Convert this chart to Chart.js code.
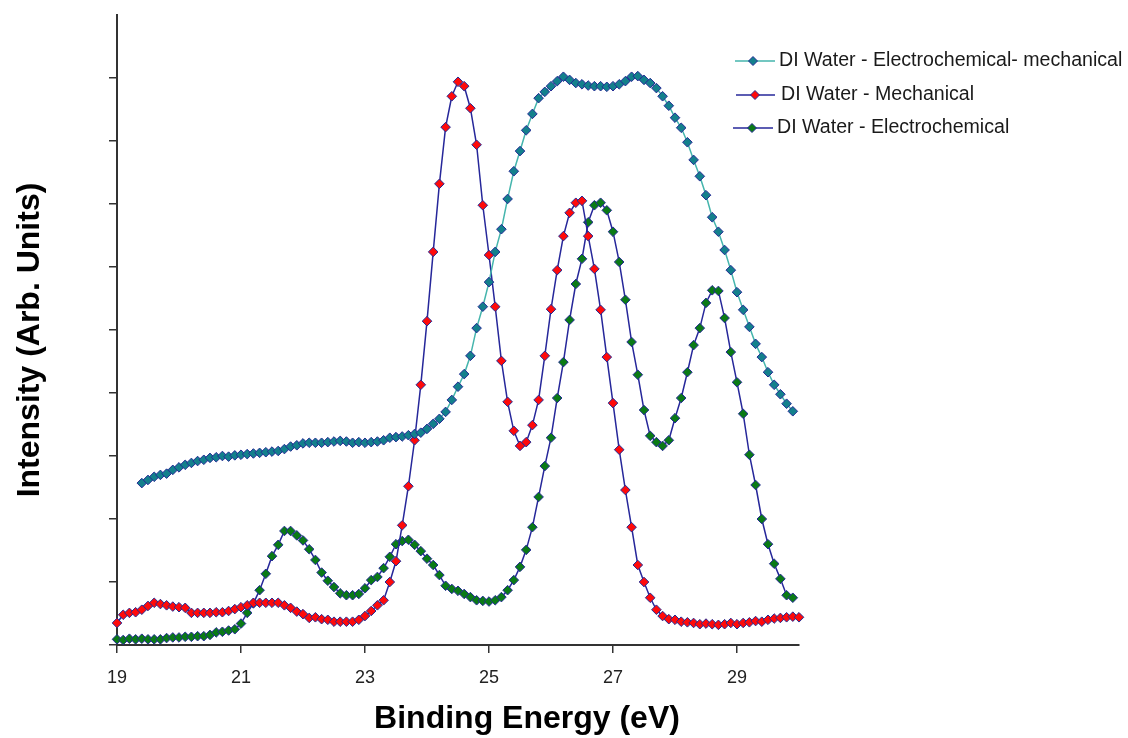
<!DOCTYPE html>
<html>
<head>
<meta charset="utf-8">
<script src="https://cdn.jsdelivr.net/npm/chart.js@4.4.0/dist/chart.umd.min.js"></script>
<style>
  html, body { margin: 0; padding: 0; background: #fff; }
  #wrap { width: 1128px; height: 738px; }
</style>
</head>
<body>
<div id="wrap"><canvas id="grafico" width="1128" height="738"></canvas></div>
<script>
// Binding energy grid (eV)
const energy = [
  19.0, 19.1, 19.2, 19.3, 19.4, 19.5, 19.6, 19.7, 19.8, 19.9,
  20.0, 20.1, 20.2, 20.3, 20.4, 20.5, 20.6, 20.7, 20.8, 20.9,
  21.0, 21.1, 21.2, 21.3, 21.4, 21.5, 21.6, 21.7, 21.8, 21.9,
  22.0, 22.1, 22.2, 22.3, 22.4, 22.5, 22.6, 22.7, 22.8, 22.9,
  23.0, 23.1, 23.2, 23.3, 23.4, 23.5, 23.6, 23.7, 23.8, 23.9,
  24.0, 24.1, 24.2, 24.3, 24.4, 24.5, 24.6, 24.7, 24.8, 24.9,
  25.0, 25.1, 25.2, 25.3, 25.4, 25.5, 25.6, 25.7, 25.8, 25.9,
  26.0, 26.1, 26.2, 26.3, 26.4, 26.5, 26.6, 26.7, 26.8, 26.9,
  27.0, 27.1, 27.2, 27.3, 27.4, 27.5, 27.6, 27.7, 27.8, 27.9,
  28.0, 28.1, 28.2, 28.3, 28.4, 28.5, 28.6, 28.7, 28.8, 28.9,
  29.0, 29.1, 29.2, 29.3, 29.4, 29.5, 29.6, 29.7, 29.8, 29.9,
  30.0
];

const xTicks = [19, 21, 23, 25, 27, 29];
const yTicks = [0, 1, 2, 3, 4, 5, 6, 7, 8, 9];

const seriesNames = [
  "DI Water - Electrochemical- mechanical",
  "DI Water - Mechanical",
  "DI Water - Electrochemical"
];

// DI Water - Electrochemical-mechanical (starts at 19.4 eV)
const ecMech = [
  null, null, null, null, 2.57, 2.62, 2.67, 2.70, 2.72, 2.78,
  2.82, 2.86, 2.89, 2.92, 2.94, 2.97, 2.98, 3.00, 2.99, 3.01,
  3.02, 3.03, 3.04, 3.05, 3.06, 3.07, 3.08, 3.11, 3.15, 3.17,
  3.20, 3.21, 3.21, 3.21, 3.22, 3.23, 3.24, 3.23, 3.21, 3.22,
  3.21, 3.22, 3.23, 3.25, 3.29, 3.30, 3.31, 3.33, 3.35, 3.37,
  3.43, 3.51, 3.59, 3.70, 3.89, 4.10, 4.30, 4.59, 5.03, 5.37,
  5.76, 6.24, 6.60, 7.08, 7.52, 7.84, 8.17, 8.43, 8.68, 8.78,
  8.87, 8.95, 9.02, 8.97, 8.92, 8.90, 8.88, 8.87, 8.87, 8.86,
  8.87, 8.90, 8.95, 9.02, 9.03, 8.97, 8.92, 8.84, 8.71, 8.56,
  8.37, 8.21, 7.98, 7.70, 7.44, 7.14, 6.79, 6.56, 6.27, 5.95,
  5.60, 5.32, 5.05, 4.78, 4.57, 4.33, 4.13, 3.98, 3.83, 3.71,
  null
];

// DI Water - Mechanical
const mech = [
  0.35, 0.48, 0.51, 0.52, 0.56, 0.62, 0.67, 0.65, 0.63, 0.61,
  0.60, 0.59, 0.51, 0.51, 0.51, 0.51, 0.52, 0.52, 0.54, 0.57,
  0.60, 0.63, 0.67, 0.67, 0.67, 0.67, 0.67, 0.63, 0.59, 0.53,
  0.49, 0.43, 0.44, 0.41, 0.40, 0.37, 0.37, 0.37, 0.37, 0.40,
  0.46, 0.54, 0.63, 0.71, 1.00, 1.33, 1.90, 2.52, 3.25, 4.13,
  5.14, 6.24, 7.32, 8.22, 8.71, 8.94, 8.87, 8.52, 7.94, 6.98,
  6.19, 5.37, 4.51, 3.86, 3.40, 3.16, 3.22, 3.49, 3.89, 4.59,
  5.33, 5.95, 6.49, 6.86, 7.02, 7.05, 6.49, 5.97, 5.32, 4.57,
  3.84, 3.10, 2.46, 1.87, 1.27, 1.00, 0.75, 0.56, 0.46, 0.41,
  0.40, 0.37, 0.36, 0.35, 0.33, 0.34, 0.33, 0.32, 0.33, 0.35,
  0.33, 0.35, 0.36, 0.38, 0.37, 0.40, 0.42, 0.43, 0.44, 0.45,
  0.44
];

// DI Water - Electrochemical
const echem = [
  0.09, 0.08, 0.10, 0.09, 0.10, 0.09, 0.09, 0.09, 0.11, 0.12,
  0.12, 0.13, 0.13, 0.14, 0.14, 0.16, 0.20, 0.21, 0.23, 0.25,
  0.34, 0.51, 0.66, 0.87, 1.13, 1.41, 1.59, 1.81, 1.81, 1.74,
  1.66, 1.52, 1.35, 1.15, 1.02, 0.92, 0.82, 0.79, 0.79, 0.81,
  0.90, 1.03, 1.08, 1.22, 1.40, 1.60, 1.65, 1.67, 1.59, 1.49,
  1.37, 1.27, 1.11, 0.94, 0.89, 0.86, 0.81, 0.76, 0.71, 0.70,
  0.69, 0.71, 0.76, 0.87, 1.03, 1.24, 1.51, 1.87, 2.35, 2.84,
  3.29, 3.92, 4.49, 5.16, 5.73, 6.13, 6.71, 6.98, 7.02, 6.90,
  6.56, 6.08, 5.48, 4.81, 4.29, 3.73, 3.32, 3.22, 3.16, 3.25,
  3.60, 3.92, 4.33, 4.76, 5.03, 5.43, 5.63, 5.62, 5.19, 4.65,
  4.17, 3.67, 3.02, 2.54, 2.00, 1.60, 1.29, 1.05, 0.79, 0.75,
  null
];

const lineTeal = "#45b5ad";
const lineNavy = "#26279a";
const markEdge = "#232a94";
const fills = ["#13808c", "#ff0a0a", "#0a7a16"];
const lines = [lineTeal, lineNavy, lineNavy];

function puntos(vals) {
  const out = [];
  vals.forEach((v, i) => { if (v !== null) out.push({ x: energy[i], y: v }); });
  return out;
}

function rombo(ctx, x, y, r, fill) {
  ctx.beginPath();
  ctx.moveTo(x - r, y);
  ctx.lineTo(x, y - r);
  ctx.lineTo(x + r, y);
  ctx.lineTo(x, y + r);
  ctx.closePath();
  ctx.fillStyle = fill;
  ctx.fill();
  ctx.lineWidth = 1;
  ctx.strokeStyle = markEdge;
  ctx.stroke();
}

// legend + axis titles drawn on top
const decor = {
  id: "decor",
  afterDraw(chart) {
    const ctx = chart.ctx;
    ctx.save();
    ctx.fillStyle = "#000";
    ctx.font = 'bold 32px "Liberation Sans", Arial, sans-serif';
    ctx.textAlign = "center";
    ctx.textBaseline = "middle";
    ctx.fillText("Binding Energy (eV)", 527, 719);
    ctx.translate(30, 340);
    ctx.rotate(-Math.PI / 2);
    ctx.fillText("Intensity (Arb. Units)", 0, 0);
    ctx.restore();

    const rows = [
      { y: 61, x0: 735, x1: 775, mx: 753, tx: 779 },
      { y: 95, x0: 736, x1: 775, mx: 755, tx: 781 },
      { y: 128, x0: 733, x1: 773, mx: 752, tx: 777 }
    ];
    ctx.save();
    rows.forEach((r, i) => {
      ctx.beginPath();
      ctx.moveTo(r.x0, r.y);
      ctx.lineTo(r.x1, r.y);
      ctx.strokeStyle = lines[i];
      ctx.lineWidth = 1.5;
      ctx.stroke();
      rombo(ctx, r.mx, r.y, 4.5, fills[i]);
      ctx.fillStyle = "#1a1a1a";
      ctx.font = '19.6px "Liberation Sans", Arial, sans-serif';
      ctx.textAlign = "left";
      ctx.textBaseline = "middle";
      ctx.fillText(seriesNames[i], r.tx, r.y);
    });
    ctx.restore();
  }
};

const series = [ecMech, mech, echem];
const datasets = series.map((vals, i) => ({
  label: seriesNames[i],
  data: puntos(vals),
  borderColor: lines[i],
  borderWidth: 1.5,
  backgroundColor: fills[i],
  pointStyle: "rectRot",
  pointRadius: 4.8,
  pointBorderColor: markEdge,
  pointBorderWidth: 1,
  tension: 0,
  clip: false
}));

const ejeComun = {
  grid: { drawOnChartArea: false, drawTicks: true, tickLength: 8, color: "#333", lineWidth: 1.5 },
  border: { color: "#333", width: 2 }
};

new Chart(document.getElementById("grafico"), {
  type: "line",
  data: { datasets: datasets },
  options: {
    responsive: false,
    animation: false,
    devicePixelRatio: 1,
    layout: { padding: { left: 0, right: 329, top: 15, bottom: 0 } },
    plugins: {
      legend: { display: false },
      tooltip: { enabled: false }
    },
    scales: {
      x: {
        type: "linear",
        min: 19,
        max: 30,
        afterBuildTicks: s => { s.ticks = xTicks.map(v => ({ value: v })); },
        afterFit: s => { s.height = 93; },
        ticks: {
          color: "#222",
          padding: 14,
          maxRotation: 0,
          autoSkip: false,
          font: { size: 18, family: '"Liberation Sans", Arial, sans-serif' },
          callback: v => String(v)
        },
        grid: ejeComun.grid,
        border: ejeComun.border
      },
      y: {
        type: "linear",
        min: 0,
        max: 10,
        afterBuildTicks: s => { s.ticks = yTicks.map(v => ({ value: v })); },
        afterFit: s => { s.width = 117; },
        ticks: { display: false },
        grid: ejeComun.grid,
        border: ejeComun.border
      }
    }
  },
  plugins: [decor]
});
</script>
</body>
</html>
